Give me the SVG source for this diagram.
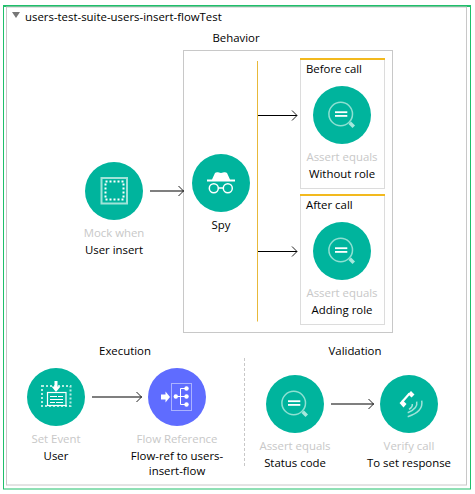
<svg xmlns="http://www.w3.org/2000/svg" width="475" height="494" viewBox="0 0 475 494">
<style>
text{font-family:"Open Sans","Noto Sans","Liberation Sans",sans-serif;font-size:11.4px;fill:#000;text-anchor:middle}
.s{fill:#c8c8c8}
.l{text-anchor:start}
.g{fill:#00b49d}
.b{fill:#5f6cff}
.c{fill:none;stroke:#000;stroke-width:1.2}
.h{fill:none;stroke:#222;stroke-width:1}
.card{fill:#fff;stroke:#dcdcdc;stroke-width:1}
.y{fill:#f2b91e}
.i{fill:none;stroke:#fff;stroke-width:1.5}
.p{fill:none;stroke:#9fe3d8;stroke-width:1.5}
</style>
<defs>
<g id="assertIcon">
<circle cx="-1.300" cy="-1" r="11.800" fill="none" stroke="#8ee0d2" stroke-width="1.500"/>
<path d="M6.500 9l2.500-2.500 4 4-2.500 2.500z" fill="#a6e8dd"/>
<rect x="-7" y="-3.700" width="12.300" height="1.800" fill="#fff"/>
<rect x="-7" y="0" width="12.300" height="1.800" fill="#fff"/>
</g>
</defs>
<rect width="475" height="494" fill="#fff"/>
<g id="frame">
<rect x="3.500" y="6" width="467" height="483" fill="#fff" stroke="#1fbf6b" stroke-width="1"/>
<rect x="3" y="5" width="468" height="2" fill="#1fbf6b"/>
<rect x="6.500" y="7" width="460" height="478" fill="#fff" stroke="#c8c8c8" stroke-width="1"/>
<path d="M12 12h8l-4 6z" fill="#777"/>
<text class="l" x="25" y="20.500">users-test-suite-users-insert-flowTest</text>
</g>
<g id="behavior">
<text x="236" y="42">Behavior</text>
<rect x="183.500" y="50.500" width="209" height="282" fill="#fff" stroke="#c8c8c8"/>
<path d="M257.500 61V321.500" stroke="#e8b93a" stroke-width="1" fill="none"/>
</g>
<g id="before-card">
<rect class="card" x="300.500" y="59" width="84" height="129.500"/>
<rect class="y" x="300" y="58" width="85" height="2"/>
<text class="l" x="306" y="73">Before call</text>
</g>
<g id="after-card">
<rect class="card" x="300.500" y="195" width="84" height="129.500"/>
<rect class="y" x="300" y="194" width="85" height="2"/>
<text class="l" x="306" y="209">After call</text>
</g>
<g id="connectors">
<path class="c" d="M150 191H184M258 115.500H297M258 251.500H297M92 397H142M331 404H374"/>
<path class="h" d="M178.500 186l5 5-5 5M292 110.500l5 5-5 5M292 246.500l5 5-5 5M136.500 392l5 5-5 5M368.500 399l5 5-5 5"/>
<path d="M244.500 358V466" stroke="#c8c8c8" stroke-width="1" stroke-dasharray="3 2" fill="none"/>
</g>
<g id="mock-when">
<circle class="g" cx="114" cy="191" r="29"/>
<rect x="101.500" y="178" width="25.500" height="25.500" fill="none" stroke="#9fe3d8" stroke-width="2"/>
<rect x="105.500" y="181.500" width="18" height="18" fill="none" stroke="#fff" stroke-width="2" stroke-dasharray="2 2"/>
<text class="s" x="114" y="237">Mock when</text>
<text x="114" y="254">User insert</text>
</g>
<g id="spy">
<circle class="g" cx="221" cy="183" r="29"/>
<path d="M207 179.500h5l3-6.500q1-1 3-.7l3 .7 3-.7q2-.3 3 .7l3 6.500h5v2h-28z" fill="#fff"/>
<circle class="i" cx="213.800" cy="188.300" r="4.500"/>
<circle class="i" cx="227.800" cy="188.300" r="4.500"/>
<path class="i" d="M218.300 188h5"/>
<text x="221" y="229">Spy</text>
</g>
<g id="assert-before">
<circle class="g" cx="342" cy="115" r="29"/>
<use href="#assertIcon" transform="translate(342 115)"/>
<text class="s" x="342" y="161">Assert equals</text>
<text x="342" y="178">Without role</text>
</g>
<g id="assert-after">
<circle class="g" cx="342" cy="251" r="29"/>
<use href="#assertIcon" transform="translate(342 251)"/>
<text class="s" x="342" y="297">Assert equals</text>
<text x="342" y="314">Adding role</text>
</g>
<g id="execution-label"><text x="125" y="355">Execution</text></g>
<g id="validation-label"><text x="355" y="355">Validation</text></g>
<g id="set-event">
<circle class="g" cx="56" cy="397" r="29"/>
<rect x="42" y="386" width="28.500" height="20" fill="none" stroke="#b5ece3" stroke-width="2" stroke-dasharray="2 2"/>
<rect x="47.500" y="392.500" width="18.500" height="13" fill="#00b49d" stroke="#fff" stroke-width="1.200"/>
<path d="M54.500 381h3v5.500h3l-4.500 5.500-4.500-5.500h3z" fill="#fff"/>
<path d="M50 396.500h7M58 396.500h5M50 399.500h13M50 402.500h5M56 402.500h7" stroke="#fff" stroke-width="1" fill="none"/>
<text class="s" x="56" y="443">Set Event</text>
<text x="56" y="460">User</text>
</g>
<g id="flow-reference">
<circle class="b" cx="177" cy="397" r="29"/>
<rect x="171.500" y="383.500" width="20" height="27" fill="none" stroke="#aab2ff" stroke-width="1"/>
<path d="M161 394.500h4.500v-3l4.500 5.500-4.500 5.500v-3h-4.500z" fill="#fff"/>
<circle cx="175.800" cy="396.500" r="2.200" fill="#fff"/>
<circle cx="186.500" cy="388.500" r="2.200" fill="#fff"/>
<circle cx="186.500" cy="396.500" r="2.200" fill="#fff"/>
<circle cx="186.500" cy="404.500" r="2.200" fill="#fff"/>
<path d="M176 396.500h10.500M180.500 388.500h6M180.500 404.500h6M180.500 388.500V404.500" stroke="#fff" stroke-width="1" fill="none"/>
<text class="s" x="177" y="443">Flow Reference</text>
<text x="177" y="460">Flow-ref to users-</text>
<text x="177" y="475">insert-flow</text>
</g>
<g id="assert-status">
<circle class="g" cx="295" cy="404" r="29"/>
<use href="#assertIcon" transform="translate(295 404)"/>
<text class="s" x="295" y="450">Assert equals</text>
<text x="295" y="467">Status code</text>
</g>
<g id="verify-call">
<circle class="g" cx="409" cy="404" r="29"/>
<path d="M408 394l3-3 3.500 3.500-3 3zM399.500 403l3-3 4 4-3 3.500z" fill="#fff"/>
<path d="M409.500 393.500L402 402" stroke="#fff" stroke-width="2.200" fill="none"/>
<path class="p" d="M412.300 404q.5 3-3.300 5.300M416.700 401.700q1.500 7-9 11M421.700 400.700q2 11-14 16"/>
<text class="s" x="409" y="450">Verify call</text>
<text x="409" y="467">To set response</text>
</g>
</svg>
